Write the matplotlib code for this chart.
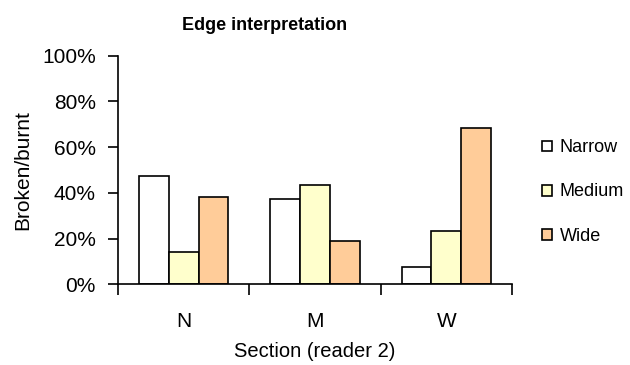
import matplotlib.pyplot as plt
import numpy as np

plt.rcParams['font.family'] = ['Liberation Sans', 'DejaVu Sans']

# data (percent broken/burnt)
sections = ["N", "M", "W"]
narrow = [47.2, 37.4, 7.7]
medium = [14.0, 43.5, 23.5]
wide = [38.4, 19.0, 68.4]

x = np.arange(len(sections))
width = 0.227

fig = plt.figure(figsize=(6.3, 3.65), dpi=100)
ax = fig.add_axes([0.1873, 0.221, 0.6254, 0.6264])

ax.bar(x - width, narrow, width, label="Narrow", color="white", edgecolor="black", linewidth=1.2)
ax.bar(x, medium, width, label="Medium", color="#FFFFCC", edgecolor="black", linewidth=1.2)
ax.bar(x + width, wide, width, label="Wide", color="#FFCC99", edgecolor="black", linewidth=1.2)

ax.set_xlim(-0.5, 2.5)
ax.set_ylim(0, 100)
ax.set_yticks(np.arange(0, 101, 20))
ax.set_yticklabels([f"{v}%" for v in range(0, 101, 20)], fontsize=15)

# tick marks at category borders, labels at centres
ax.set_xticks(np.arange(-0.5, 3, 1))
ax.set_xticklabels([])
ax.set_xticks(x, minor=True)
ax.set_xticklabels(sections, minor=True, fontsize=15)
ax.tick_params(axis="x", which="minor", length=0, pad=20)
ax.tick_params(axis="x", which="major", length=8, width=1.2, direction="out")
ax.tick_params(axis="y", length=7, width=1.2, direction="out", pad=9)

for s in ["top", "right"]:
    ax.spines[s].set_visible(False)
for s in ["left", "bottom"]:
    ax.spines[s].set_linewidth(1.2)

# title sits left of the axes centre in the original
fig.text(265 / 630, 1 - 25 / 365, "Edge interpretation", fontsize=13, fontweight="bold",
         ha="center", va="center")
ax.set_xlabel("Section (reader 2)", fontsize=14.5, labelpad=8)
ax.set_ylabel("Broken/burnt", fontsize=15, labelpad=7)

ax.legend(loc="center left", bbox_to_anchor=(0.861, 0.474), bbox_transform=fig.transFigure,
          frameon=False, fontsize=13, handlelength=0.55, handleheight=0.55,
          handletextpad=0.4, labelspacing=1.5, borderpad=0, borderaxespad=0)

fig.savefig("out.png", dpi=100)
